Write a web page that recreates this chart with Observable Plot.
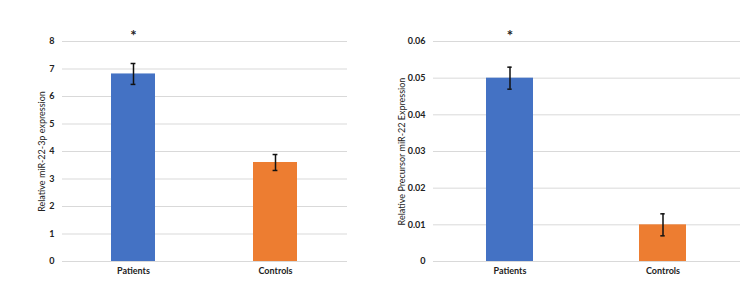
<!DOCTYPE html>
<html>
<head>
<meta charset="utf-8">
<script src="https://cdn.jsdelivr.net/npm/d3@7"></script>
<script src="https://cdn.jsdelivr.net/npm/@observablehq/plot@0.6"></script>
<style>
  html, body { margin: 0; padding: 0; background: #fff; }
  #wrap { position: relative; width: 750px; height: 284px; font-family: Lato, "Open Sans", sans-serif; }
  .panel { position: absolute; top: 0; }
  .letter { position: absolute; font-size: 9px; font-weight: bold; color: #222; }
</style>
</head>
<body>
<div id="wrap">
  <div class="letter" style="left:22px; top:9px;">a</div>
  <div class="letter" style="left:381px; top:13px;">b</div>
  <div id="pa" class="panel" style="left:0px;"></div>
  <div id="pb" class="panel" style="left:370px;"></div>
</div>
<script>
// Groups and colours shared by both panels
const groups = ["Patients", "Controls"];
const colors = ["#4472C4", "#ED7D31"];

// Panel a: relative miR-22-3p expression (mean ± error)
const meanA = [6.82, 3.6];
const errA = [0.38, 0.29];
const ticksA = [0, 1, 2, 3, 4, 5, 6, 7, 8];

// Panel b: relative precursor miR-22 expression (mean ± error)
const meanB = [0.05, 0.01];
const errB = [0.003, 0.003];
const ticksB = [0, 0.01, 0.02, 0.03, 0.04, 0.05, 0.06];

// Significance marker per group
const stars = ["*", ""];

function panel({mean, err, ticks, yMax, label, width, marginLeft, marginRight, labelOffset, tickFormat}) {
  const data = groups.map((g, i) => ({group: g, value: mean[i], lo: mean[i] - err[i], hi: mean[i] + err[i], star: stars[i]}));
  const innerW = width - marginLeft - marginRight;
  const paddingInner = 0.69;
  const bandW = innerW / 2 * (1 - paddingInner);
  const capInset = (bandW - 5) / 2;
  return Plot.plot({
    width,
    height: 284,
    marginLeft,
    marginRight,
    marginTop: 41,
    marginBottom: 23,
    style: {fontFamily: "Lato, 'Open Sans', sans-serif", fontSize: "9px", color: "#222", background: "#fff"},
    x: {domain: groups, paddingInner, paddingOuter: paddingInner / 2, label: null, tickSize: 0, tickPadding: 6},
    y: {domain: [0, yMax], ticks, tickFormat, label, labelAnchor: "center", labelArrow: "none", labelOffset, tickSize: 0, tickPadding: 8},
    color: {domain: groups, range: colors},
    marks: [
      Plot.gridY(ticks, {stroke: "#d9d9d9", strokeOpacity: 1, strokeWidth: 1}),
      Plot.barY(data, {x: "group", y: "value", fill: "group"}),
      Plot.ruleX(data, {x: "group", y1: "lo", y2: "hi", stroke: "#111", strokeWidth: 1.5}),
      Plot.tickY(data, {x: "group", y: "lo", stroke: "#111", strokeWidth: 1.5, insetLeft: capInset, insetRight: capInset}),
      Plot.tickY(data, {x: "group", y: "hi", stroke: "#111", strokeWidth: 1.5, insetLeft: capInset, insetRight: capInset}),
      Plot.text(data, {x: "group", text: "star", frameAnchor: "top", dy: -11, fontSize: 15, fontWeight: "bold"})
    ]
  });
}

const a = panel({mean: meanA, err: errA, ticks: ticksA, yMax: 8, label: "Relative miR-22-3p expression",
  width: 370, marginLeft: 62, marginRight: 23, labelOffset: 24, tickFormat: d3.format("d")});
const b = panel({mean: meanB, err: errB, ticks: ticksB, yMax: 0.06, label: "Relative Precursor miR-22 Expression",
  width: 380, marginLeft: 63, marginRight: 10, labelOffset: 35, tickFormat: d3.format("~g")});

for (const svg of [a, b]) {
  svg.querySelectorAll("g[aria-label='y-axis tick label'] text, g[aria-label='x-axis tick label'] text").forEach(t => t.setAttribute("font-weight", "bold"));
}
document.getElementById("pa").appendChild(a);
document.getElementById("pb").appendChild(b);
</script>
</body>
</html>
